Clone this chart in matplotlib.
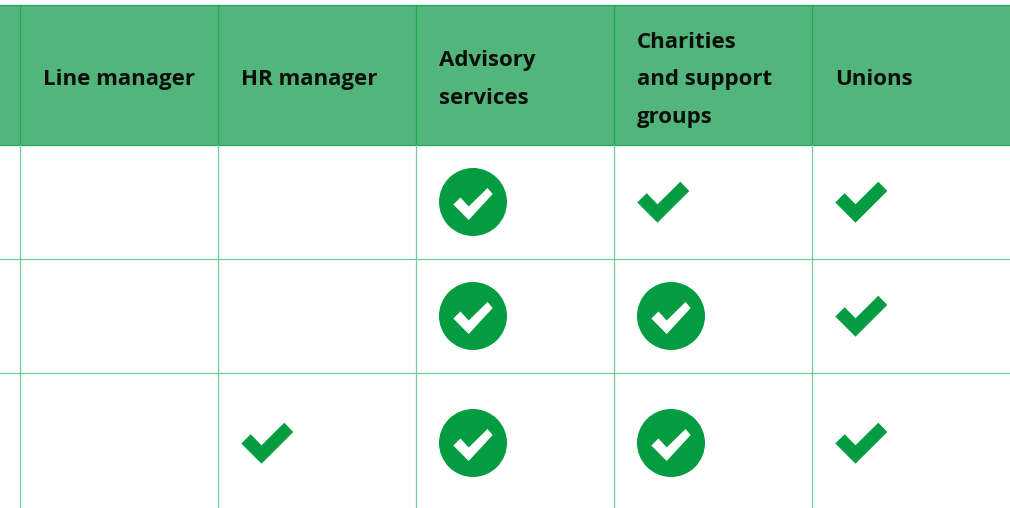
import matplotlib
matplotlib.use('Agg')
import matplotlib.pyplot as plt
from matplotlib.patches import Circle, Polygon, Rectangle

# column titles, one entry per line
columns = [['Line manager'], ['HR manager'], ['Advisory', 'services'],
           ['Charities', 'and support', 'groups'], ['Unions']]

# 0 = nothing, 1 = plain tick, 2 = tick in a circle
line_manager = [0, 0, 0]
hr_manager = [0, 0, 1]
advisory = [2, 2, 2]
charities = [1, 2, 2]
unions = [1, 1, 1]
table = [line_manager, hr_manager, advisory, charities, unions]

col_x = [20, 218, 416, 614, 812]
row_lines = [145, 259, 373]
row_mid = [202, 316, 443]

HEADER = '#52b57b'
HEADER_LINE = '#1fa855'
GRID = '#72cc94'
GREEN = '#039c40'

# tick outline, relative to the left end / centre of the mark
TICK = [(0.3, 0.5), (9.7, -8.8), (20.5, 2.3), (43.3, -20.3), (52.3, -11), (20.5, 20.7)]
SMALL = [(-19.7, 2.5), (-12.5, -4.5), (-4.3, 4.5), (14.5, -14), (19.7, -8), (-4.3, 18)]

fig = plt.figure(figsize=(10.1, 5.08), dpi=100)
ax = fig.add_axes([0, 0, 1, 1])
ax.set_xlim(0, 1010)
ax.set_ylim(508, 0)
ax.axis('off')

ax.add_patch(Rectangle((0, 5), 1010, 140, fc=HEADER, ec='none'))
ax.plot([0, 1010], [5, 5], color=HEADER_LINE, lw=0.9)
ax.plot([0, 1010], [145, 145], color=HEADER_LINE, lw=0.9)
for y in row_lines[1:]:
    ax.plot([0, 1010], [y, y], color=GRID, lw=0.9)
for x in col_x:
    ax.plot([x - 0.5, x - 0.5], [5, 145], color=HEADER_LINE, lw=0.9)
    ax.plot([x - 0.5, x - 0.5], [145, 508], color=GRID, lw=0.9)

for x, title in zip(col_x, columns):
    for i, line in enumerate(title):
        y = 85 + (i - (len(title) - 1) / 2) * 37.5
        ax.text(x + 23, y, line, family='Open Sans', weight='bold', fontsize=16,
                color='#0a0f0c', va='baseline', ha='left')

for x, col in zip(col_x, table):
    for y, v in zip(row_mid, col):
        if v == 1:
            ax.add_patch(Polygon([(x + 23 + a, y + b) for a, b in TICK], fc=GREEN, ec='none'))
        elif v == 2:
            cx = x + 57
            ax.add_patch(Circle((cx, y), 34, fc=GREEN, ec='none'))
            ax.add_patch(Polygon([(cx + a, y + b) for a, b in SMALL], fc='white', ec='none'))

fig.savefig('out.png', dpi=100)
